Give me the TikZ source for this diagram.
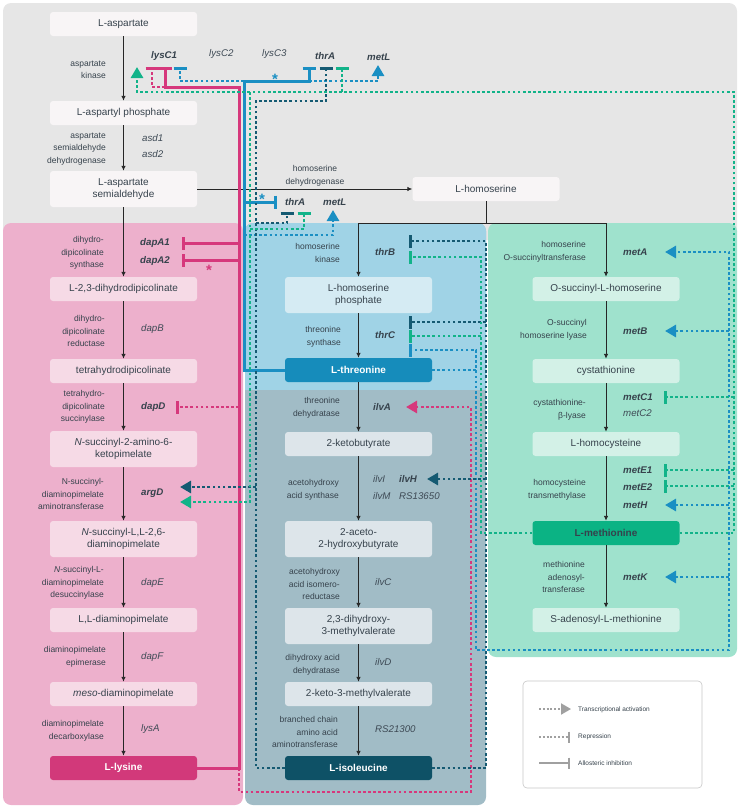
\documentclass[tikz,border=0pt]{standalone}
\usepackage{fontspec}
\setmainfont{Liberation Sans}
\definecolor{panelgray}{HTML}{E6E6E6}
\definecolor{panelpink}{HTML}{EDB0CC}
\definecolor{panelblue}{HTML}{A0D3E6}
\definecolor{panelslate}{HTML}{A1BCC6}
\definecolor{panelgreen}{HTML}{9FE2CD}
\definecolor{boxgray}{HTML}{F8F5F6}
\definecolor{boxpink}{HTML}{F6DAE6}
\definecolor{boxblue}{HTML}{D5EBF3}
\definecolor{boxslate}{HTML}{DDE5EA}
\definecolor{boxgreen}{HTML}{D3F1E7}
\definecolor{lyscol}{HTML}{D6387C}
\definecolor{thrcol}{HTML}{1A8FC3}
\definecolor{ilecol}{HTML}{155A72}
\definecolor{metcol}{HTML}{12B389}
\definecolor{lyshub}{HTML}{D2397A}
\definecolor{thrhub}{HTML}{168CBB}
\definecolor{ilehub}{HTML}{0E5166}
\definecolor{methub}{HTML}{0BB384}
\definecolor{txtdark}{HTML}{36424C}
\definecolor{genetxt}{HTML}{3E4A55}
\definecolor{legendgray}{HTML}{A0A0A0}
\usetikzlibrary{arrows.meta}

\begin{document}
\begin{tikzpicture}[x=1pt,y=-1pt]
        \tikzset{
            metabox/.style={
                fill=boxgray,
                rounded corners=3pt,
                minimum width=147pt,
                minimum height=24pt,
                inner sep=1pt,
                align=center,
                text=txtdark,
                font=\fontsize{10}{12.5}\selectfont
            },
            metatall/.style={
                metabox,
                minimum height=36pt
            },
            metahub/.style={
                metabox,
                text=white,
                font=\bfseries\fontsize{10}{12.5}\selectfont
            },
            enzlabel/.style={
                anchor=east,
                align=right,
                inner sep=0pt,
                text=txtdark,
                font=\fontsize{8.5}{12.5}\selectfont
            },
            genelabel/.style={
                anchor=west,
                inner sep=0pt,
                text=genetxt,
                font=\itshape\fontsize{9.7}{12}\selectfont
            },
            genebold/.style={
                genelabel,
                text=txtdark,
                font=\bfseries\itshape\fontsize{9.7}{12}\selectfont
            },
            starmark/.style={
                inner sep=0pt,
                font=\bfseries\fontsize{15}{15}\selectfont
            },
            rxnline/.style={
                draw=black!85,
                line width=0.9pt
            },
            rxnarrow/.style={
                rxnline,
                -{Latex[length=5pt,width=4.5pt]}
            },
            reginh/.style={
                -{Bar[width=13pt]},
                line width=3pt
            },
            regrep/.style={
                reginh,
                line width=2.7pt,
                dash pattern=on 2.7pt off 2.4pt
            },
            regact/.style={
                -{Triangle[length=11pt,width=12pt]},
                line width=2.7pt,
                dash pattern=on 2.7pt off 2.4pt
            },
            legact/.style={
                -{Triangle[length=10pt,width=11pt]},
                draw=legendgray,
                line width=1.9pt,
                dash pattern=on 1.9pt off 1.9pt
            },
            legrep/.style={
                -{Bar[width=11pt]},
                draw=legendgray,
                line width=1.9pt,
                dash pattern=on 1.9pt off 1.9pt
            },
            leginh/.style={
                -{Bar[width=11pt]},
                draw=legendgray,
                line width=2.2pt
            },
            legtext/.style={
                anchor=west,
                inner sep=0pt,
                text=txtdark,
                font=\fontsize{6.5}{8}\selectfont
            }
        }
        \useasboundingbox (0,0) rectangle (740,809);

        % panels
        \fill[panelgray, rounded corners=8pt] (3,3) rectangle (737,240);
        \fill[panelpink, rounded corners=8pt] (3,223) rectangle (243,805);
        \fill[panelslate, rounded corners=8pt] (245,223) rectangle (486,805);
        \fill[panelblue, rounded corners=8pt] (245,223) rectangle (486,398);
        \fill[panelslate] (245,390) rectangle (486,400);
        \fill[panelgreen, rounded corners=8pt] (488,223) rectangle (737,657);

        % lysine branch
        \node[metabox] (asp) at (123.5,24) {L-aspartate};
        \node[metabox] (asp4p) at (123.5,113) {L-aspartyl phosphate};
        \node[metatall] (asasd) at (123.5,189) {L-aspartate\\semialdehyde};
        \node[metabox, fill=boxpink] (dhdp) at (123.5,289) {L-2,3-dihydrodipicolinate};
        \node[metabox, fill=boxpink] (thdp) at (123.5,371) {tetrahydrodipicolinate};
        \node[metatall, fill=boxpink] (nsak) at (123.5,449)
            {\textit{N}-succinyl-2-amino-6-\\ketopimelate};
        \node[metatall, fill=boxpink] (nsdap) at (123.5,539)
            {\textit{N}-succinyl-L,L-2,6-\\diaminopimelate};
        \node[metabox, fill=boxpink] (lldap) at (123.5,620) {L,L-diaminopimelate};
        \node[metabox, fill=boxpink] (mdap) at (123.5,694) {\textit{meso}-diaminopimelate};
        \node[metahub, fill=lyshub] (lys) at (123.5,768) {L-lysine};

        % threonine and isoleucine branch
        \node[metabox] (hom) at (486,189) {L-homoserine};
        \node[metatall, fill=boxblue] (hsp) at (358.5,295) {L-homoserine\\phosphate};
        \node[metahub, fill=thrhub] (thr) at (358.5,370) {L-threonine};
        \node[metabox, fill=boxslate] (kb) at (358.5,444) {2-ketobutyrate};
        \node[metatall, fill=boxslate] (aahb) at (358.5,539) {2-aceto-\\2-hydroxybutyrate};
        \node[metatall, fill=boxslate] (dhmv) at (358.5,626) {2,3-dihydroxy-\\3-methylvalerate};
        \node[metabox, fill=boxslate] (kmv) at (358.5,694) {2-keto-3-methylvalerate};
        \node[metahub, fill=ilehub] (ile) at (358.5,768) {L-isoleucine};

        % methionine branch
        \node[metabox, fill=boxgreen] (osh) at (606,289) {O-succinyl-L-homoserine};
        \node[metabox, fill=boxgreen] (cysta) at (606,371) {cystathionine};
        \node[metabox, fill=boxgreen] (hcys) at (606,444) {L-homocysteine};
        \node[metahub, fill=methub, text=txtdark] (met) at (606,533) {L-methionine};
        \node[metabox, fill=boxgreen] (sam) at (606,620) {S-adenosyl-L-methionine};

        % enzymes
        \node[enzlabel] (ak) at (106,70) {aspartate\\kinase};
        \node[enzlabel] (asdh) at (106,149) {aspartate\\semialdehyde\\dehydrogenase};
        \node[enzlabel] (dhdps) at (104,253) {dihydro-\\dipicolinate\\synthase};
        \node[enzlabel] (dhdpr) at (105,331) {dihydro-\\dipicolinate\\reductase};
        \node[enzlabel] (thdps) at (105,407) {tetrahydro-\\dipicolinate\\succinylase};
        \node[enzlabel] (nsdat) at (104,494) {N-succinyl-\\diaminopimelate\\aminotransferase};
        \node[enzlabel] (nsdd) at (104,583) {\textit{N}-succinyl-L-\\diaminopimelate\\desuccinylase};
        \node[enzlabel] (dape) at (106,657) {diaminopimelate\\epimerase};
        \node[enzlabel] (dapdc) at (104,731) {diaminopimelate\\decarboxylase};
        \node[enzlabel, anchor=center, align=center] (hsdh) at (315,176)
            {homoserine\\dehydrogenase};
        \node[enzlabel] (hsk) at (340,253) {homoserine\\kinase};
        \node[enzlabel] (ts) at (341,337) {threonine\\synthase};
        \node[enzlabel] (td) at (340,408) {threonine\\dehydratase};
        \node[enzlabel] (ahas) at (339,490) {acetohydroxy\\acid synthase};
        \node[enzlabel] (ahair) at (340,584) {acetohydroxy\\acid isomero-\\reductase};
        \node[enzlabel] (dhad) at (340,665) {dihydroxy acid\\dehydratase};
        \node[enzlabel] (bcat) at (338,732) {branched chain\\amino acid\\aminotransferase};
        \node[enzlabel] (hsst) at (586,252) {homoserine\\O-succinyltransferase};
        \node[enzlabel] (oshl) at (587,330) {O-succinyl\\homoserine lyase};
        \node[enzlabel] (cbl) at (586,410) {cystathionine-\\β-lyase};
        \node[enzlabel] (htm) at (586,490) {homocysteine\\transmethylase};
        \node[enzlabel] (mat) at (585,577) {methionine\\adenosyl-\\transferase};

        % genes
        \node[genebold] (lysCa) at (151,56) {lysC1};
        \node[genelabel] (lysCb) at (209,54) {lysC2};
        \node[genelabel] (lysCc) at (262,54) {lysC3};
        \node[genebold] (thrAa) at (315,56) {thrA};
        \node[genebold] (metLa) at (367,57) {metL};
        \node[genelabel] (asdA) at (142,138) {asd1};
        \node[genelabel] (asdB) at (142,154) {asd2};
        \node[genebold] (dapAa) at (140,243) {dapA1};
        \node[genebold] (dapAb) at (140,261) {dapA2};
        \node[genelabel] (dapB) at (141,329) {dapB};
        \node[genebold] (dapD) at (141,407) {dapD};
        \node[genebold] (argD) at (141,493) {argD};
        \node[genelabel] (dapE) at (141,583) {dapE};
        \node[genelabel] (dapF) at (141,657) {dapF};
        \node[genelabel] (lysA) at (141,729) {lysA};
        \node[genebold] (thrAb) at (285,202) {thrA};
        \node[genebold] (metLb) at (323,202) {metL};
        \node[genebold] (thrB) at (375,252) {thrB};
        \node[genebold] (thrC) at (375,335) {thrC};
        \node[genebold] (ilvA) at (373,407) {ilvA};
        \node[genelabel] (ilvI) at (373,479) {ilvI};
        \node[genebold] (ilvH) at (399,479) {ilvH};
        \node[genelabel] (ilvM) at (373,496) {ilvM};
        \node[genelabel] (rsA) at (399,496) {RS13650};
        \node[genelabel] (ilvC) at (375,582) {ilvC};
        \node[genelabel] (ilvD) at (375,662) {ilvD};
        \node[genelabel] (rsB) at (375,729) {RS21300};
        \node[genebold] (metA) at (623,252) {metA};
        \node[genebold] (metB) at (623,331) {metB};
        \node[genebold] (metCa) at (623,397) {metC1};
        \node[genelabel] (metCb) at (623,413) {metC2};
        \node[genebold] (metEa) at (623,470) {metE1};
        \node[genebold] (metEb) at (623,487) {metE2};
        \node[genebold] (metH) at (623,505) {metH};
        \node[genebold] (metK) at (623,577) {metK};

        \node[starmark, text=thrcol] (starA) at (275,79) {*};
        \node[starmark, text=thrcol] (starB) at (262,199) {*};
        \node[starmark, text=lyscol] (starC) at (209,270) {*};

        % pathway arrows
        \draw[rxnarrow] (asp) -- (asp4p);
        \draw[rxnarrow] (asp4p) -- (asasd);
        \draw[rxnarrow] (asasd) -- (dhdp);
        \draw[rxnarrow] (dhdp) -- (thdp);
        \draw[rxnarrow] (thdp) -- (nsak);
        \draw[rxnarrow] (nsak) -- (nsdap);
        \draw[rxnarrow] (nsdap) -- (lldap);
        \draw[rxnarrow] (lldap) -- (mdap);
        \draw[rxnarrow] (mdap) -- (lys);
        \draw[rxnarrow] (asasd.east) -- (hom.west);
        \coordinate (hsplit) at (486,223);
        \draw[rxnline] (hom.south) -- (hsplit);
        \draw[rxnarrow] (hsplit) -| (hsp.north);
        \draw[rxnarrow] (hsplit) -| (osh.north);
        \draw[rxnarrow] (hsp) -- (thr);
        \draw[rxnarrow] (thr) -- (kb);
        \draw[rxnarrow] (kb) -- (aahb);
        \draw[rxnarrow] (aahb) -- (dhmv);
        \draw[rxnarrow] (dhmv) -- (kmv);
        \draw[rxnarrow] (kmv) -- (ile);
        \draw[rxnarrow] (osh) -- (cysta);
        \draw[rxnarrow] (cysta) -- (hcys);
        \draw[rxnarrow] (hcys) -- (met);
        \draw[rxnarrow] (met) -- (sam);

        % bus corners
        \coordinate (lysTR) at (239,87);
        \coordinate (lysBR) at (471,792);
        \coordinate (thrTL) at (244,81);
        \coordinate (thrJ2) at (244,235);
        \coordinate (thrRtop) at (476,350);
        \coordinate (thrRB) at (729,650);
        \coordinate (ileTL) at (256,101);
        \coordinate (ileJ2) at (256,223);
        \coordinate (ileTR) at (486,241);
        \coordinate (metTR) at (734,92);
        \coordinate (metTL) at (250,92);
        \coordinate (metJ2) at (250,229);
        \coordinate (metML) at (481,257);

        % regulation targets
        \coordinate (actLysCg) at (137,67);
        \coordinate (repLysCm) at (152,67);
        \coordinate (inhLysCm) at (165,67);
        \coordinate (repLysCb) at (180,67);
        \coordinate (inhThrAb) at (309,67);
        \coordinate (repThrAi) at (326,67);
        \coordinate (repThrAg) at (342,67);
        \coordinate (actMetLb) at (378,65);
        \coordinate (inhThrAb2) at (277,202);
        \coordinate (repThrAi2) at (287,212);
        \coordinate (repThrAg2) at (304,212);
        \coordinate (actMetLb2) at (333,210);
        \coordinate (inhDapA1) at (182,243);
        \coordinate (inhDapA2) at (182,260);
        \coordinate (repDapD) at (176,407);
        \coordinate (actArgDi) at (180,487);
        \coordinate (actArgDg) at (180,502);
        \coordinate (repThrBi) at (409,241);
        \coordinate (repThrBg) at (409,257);
        \coordinate (repThrCi) at (409,322);
        \coordinate (repThrCg) at (409,336);
        \coordinate (repThrCb) at (409,350);
        \coordinate (actIlvA) at (406,407);
        \coordinate (actIlvH) at (427,479);
        \coordinate (actMetA) at (665,252);
        \coordinate (actMetB) at (665,331);
        \coordinate (repMetC1) at (664,397);
        \coordinate (repMetE1) at (664,470);
        \coordinate (repMetE2) at (664,486);
        \coordinate (actMetH) at (665,505);
        \coordinate (actMetK) at (665,577);

        % lysine feedback
        \draw[reginh, lyscol] (lys.east) -| (lysTR) -| (inhLysCm);
        \draw[reginh, lyscol] (lysTR |- inhDapA1) -- (inhDapA1);
        \draw[reginh, lyscol] (lysTR |- inhDapA2) -- (inhDapA2);
        \draw[regrep, lyscol] (inhLysCm |- lysTR) -| (repLysCm);
        \draw[regrep, lyscol] (lysTR |- repDapD) -- (repDapD);
        \draw[regact, lyscol] (lysTR |- lys.east) |- (lysBR) |- (actIlvA);

        % threonine feedback
        \draw[regrep, thrcol] (thrTL) -| (repLysCb);
        \draw[regact, thrcol] (inhThrAb |- thrTL) -| (actMetLb);
        \draw[regact, thrcol] (thrJ2) -| (actMetLb2);
        \draw[reginh, thrcol] (thr.west) -| (thrTL) -| (inhThrAb);
        \draw[reginh, thrcol] (thrTL |- inhThrAb2) -- (inhThrAb2);
        \draw[regrep, thrcol] (thr.east) -| (thrRtop) -- (repThrCb);
        \draw[regact, thrcol] (thrRtop) |- (thrRB) |- (actMetA);
        \draw[regact, thrcol] (thrRB |- actMetB) -- (actMetB);
        \draw[regact, thrcol] (thrRB |- actMetH) -- (actMetH);
        \draw[regact, thrcol] (thrRB |- actMetK) -- (actMetK);

        % isoleucine feedback
        \draw[regrep, ilecol] (ile.west) -| (ileTL) -| (repThrAi);
        \draw[regrep, ilecol] (ileJ2) -| (repThrAi2);
        \draw[regact, ilecol] (ileTL |- actArgDi) -- (actArgDi);
        \draw[regrep, ilecol] (ile.east) -| (ileTR) -- (repThrBi);
        \draw[regrep, ilecol] (ileTR |- repThrCi) -- (repThrCi);
        \draw[regact, ilecol] (ileTR |- actIlvH) -- (actIlvH);

        % methionine feedback
        \draw[regact, metcol] (met.east) -| (metTR) -| (actLysCg);
        \draw[regrep, metcol] (repThrAg |- metTR) -- (repThrAg);
        \draw[regact, metcol] (metTL) |- (actArgDg);
        \draw[regrep, metcol] (metJ2) -| (repThrAg2);
        \draw[regrep, metcol] (met.west) -| (metML) -- (repThrBg);
        \draw[regrep, metcol] (metML |- repThrCg) -- (repThrCg);
        \draw[regrep, metcol] (metTR |- repMetC1) -- (repMetC1);
        \draw[regrep, metcol] (metTR |- repMetE1) -- (repMetE1);
        \draw[regrep, metcol] (metTR |- repMetE2) -- (repMetE2);

        % legend
        \node[draw=black!22, fill=white, rounded corners=4pt, line width=0.6pt,
            minimum width=179pt, minimum height=107pt] (legend) at (612.5,734.5) {};
        \node[legtext] (legA) at (578,710) {Transcriptional activation};
        \node[legtext] (legR) at (578,737) {Repression};
        \node[legtext] (legI) at (578,763) {Allosteric inhibition};
        \coordinate (legAs) at (539,709);
        \coordinate (legAe) at (571,709);
        \coordinate (legRs) at (539,737);
        \coordinate (legRe) at (570,737);
        \coordinate (legIs) at (539,763);
        \coordinate (legIe) at (570,763);
        \draw[legact] (legAs) -- (legAe);
        \draw[legrep] (legRs) -- (legRe);
        \draw[leginh] (legIs) -- (legIe);
    \end{tikzpicture}
\end{document}
